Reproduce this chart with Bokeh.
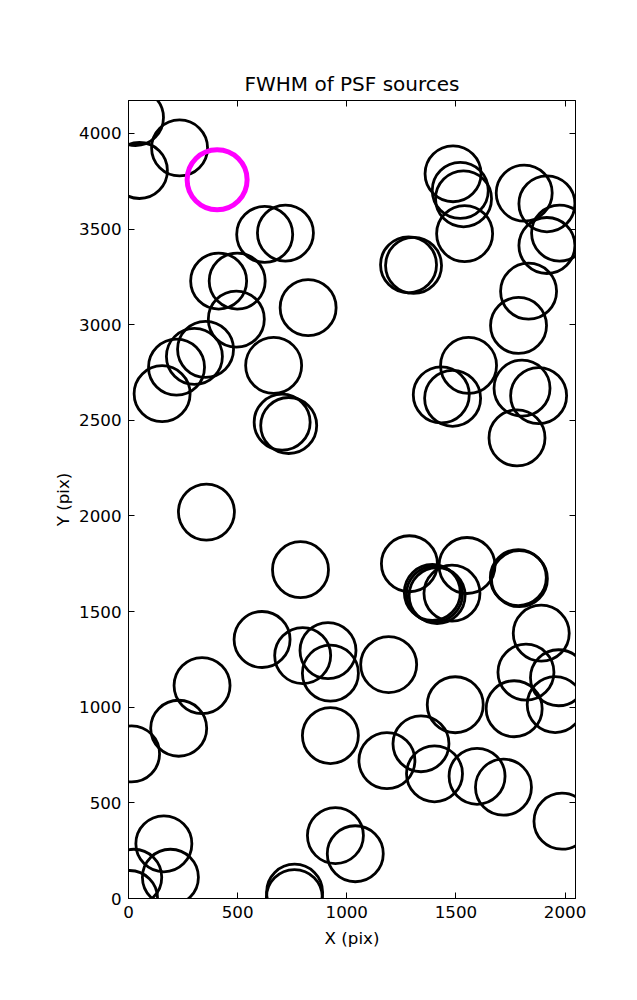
from bokeh.plotting import figure
from bokeh.models import Range1d, LinearAxis, FixedTicker, CustomJSTickFormatter
from bokeh.embed import file_html
from bokeh.resources import INLINE

# source positions (pix)
src_x = [32, 50, 234,
         624, 719, 413, 498, 823, 494,
         353, 302, 220, 154, 665, 704, 734,
         357, 788,
         1487, 1520, 1535, 1540, 1283, 1306,
         1813, 1917, 1975, 1917, 1833, 1787,
         1558, 1433, 1485, 1803, 1879, 1780,
         1287, 1551, 1392, 1402, 1414, 1482, 1786, 1791,
         612, 798, 914, 925, 337, 230, 14, 925,
         1192, 1497, 1891, 1821, 1970, 1767, 1955,
         1340, 1184, 1402, 1597, 1718, 1986,
         948, 1039, 162, 192, 24, 5, 761, 760]
src_y = [4083, 3806, 3924,
         3472, 3479, 3228, 3228, 3089, 3029,
         2871, 2834, 2778, 2639, 2787, 2490, 2473,
         2020, 1719,
         3789, 3702, 3658, 3476, 3313, 3310,
         3688, 3632, 3479, 3414, 3175, 2996,
         2787, 2633, 2615, 2668, 2629, 2408,
         1750, 1741, 1600, 1592, 1584, 1596, 1678, 1672,
         1354, 1270, 1296, 1178, 1113, 890, 756, 852,
         1223, 1013, 1387, 1183, 1154, 992, 1014,
         809, 721, 652, 639, 582, 404,
         329, 234, 286, 111, 111, 0, 33, 5]

# highlighted source
hl_x = [406]
hl_y = [3758]

x_ticks = [0, 500, 1000, 1500, 2000]
y_ticks = [0, 500, 1000, 1500, 2000, 2500, 3000, 3500, 4000]

FONT = "DejaVu Sans"

p = figure(width=629, height=984, output_backend="svg", toolbar_location=None,
           x_range=Range1d(0, 2048), y_range=Range1d(0, 4172),
           min_border_left=128, min_border_right=54, min_border_top=100, min_border_bottom=86,
           title="FWHM of PSF sources")
p.title.text_font = FONT
p.title.text_font_size = "20px"
p.title.text_font_style = "normal"
p.title.align = "center"
p.title.text_color = "black"

p.grid.visible = False
p.outline_line_color = "black"
p.outline_line_width = 1
p.background_fill_color = "white"
p.border_fill_color = "white"

p.xaxis.ticker = FixedTicker(ticks=x_ticks)
p.yaxis.ticker = FixedTicker(ticks=y_ticks)
p.xaxis.axis_label = "X (pix)"
p.yaxis.axis_label = "Y (pix)"
for ax in [p.xaxis[0], p.yaxis[0]]:
    ax.major_tick_in = 6
    ax.major_tick_out = 0
    ax.minor_tick_line_color = None
    ax.axis_line_color = "black"
    ax.major_tick_line_color = "black"
    ax.major_label_text_font = FONT
    ax.major_label_text_font_size = "16.7px"
    ax.major_label_text_color = "black"
    ax.major_label_standoff = 7
    ax.axis_label_text_font = FONT
    ax.axis_label_text_font_size = "16.7px"
    ax.axis_label_text_font_style = "normal"
    ax.axis_label_text_color = "black"
p.xaxis.axis_label_standoff = 7
p.yaxis.axis_label_standoff = 3

blank = CustomJSTickFormatter(code="return '';")
top_ax = LinearAxis(ticker=FixedTicker(ticks=x_ticks), formatter=blank,
                    major_tick_in=6, major_tick_out=0, minor_tick_line_color=None,
                    axis_line_color="black", major_label_standoff=0)
right_ax = LinearAxis(ticker=FixedTicker(ticks=y_ticks), formatter=blank,
                      major_tick_in=6, major_tick_out=0, minor_tick_line_color=None,
                      axis_line_color="black", major_label_standoff=0)
p.add_layout(top_ax, "above")
p.add_layout(right_ax, "right")

p.scatter(src_x, src_y, marker="circle", size=56, fill_color=None,
          line_color="black", line_width=2.8)
p.scatter(hl_x, hl_y, marker="circle", size=60, fill_color=None,
          line_color="#ff00ff", line_width=5)

open("out.html", "w").write(file_html(p, INLINE))
